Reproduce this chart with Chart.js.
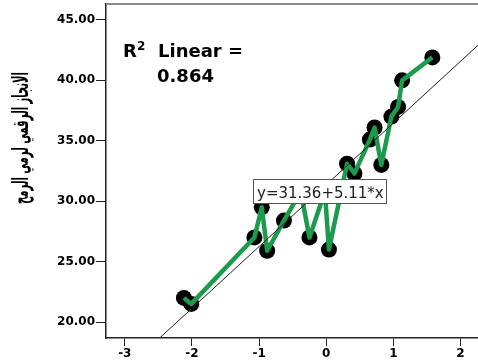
<!DOCTYPE html>
<html>
<head>
<meta charset="utf-8">
<script src="https://cdn.jsdelivr.net/npm/chart.js@4.4.1/dist/chart.umd.min.js"></script>
<style>
    html, body { margin: 0; padding: 0; background: #fff; overflow: hidden; }
    canvas { display: block; }
</style>
</head>
<body>
<canvas id="scatterChart" width="478" height="363"></canvas>
<script>
"use strict";

// data
var xTicks = [-3, -2, -1, 0, 1, 2];
var yTicks = [20, 25, 30, 35, 40, 45];
var xValues = [-2.12, -2.01, -1.07, -0.96, -0.88, -0.63, -0.38, -0.25, -0.02, 0.04, 0.31, 0.42, 0.65, 0.72, 0.82, 0.97, 1.07, 1.13, 1.58];
var yValues = [22.0, 21.5, 27.0, 29.5, 25.9, 28.4, 30.8, 27.0, 30.8, 26.0, 33.1, 32.3, 35.1, 36.1, 33.0, 37.0, 37.8, 40.0, 41.9];
var intercept = 31.36;
var slope = 5.11;
var rSquared = 0.864;
var yTitle = "الانجاز الرقمي لرمي الرمح";

var xMin = -3.28, xMax = 2.26;
var yMin = 18.68, yMax = 46.32;

var points = xValues.map(function (x, i) {
    return { x: x, y: yValues[i] };
});
var fitLine = [xMin, xMax].map(function (x) {
    return { x: x, y: intercept + slope * x };
});

var annotations = {
    id: "annotations",
    afterDatasetsDraw: function (chart) {
        var ctx = chart.ctx;
        var area = chart.chartArea;
        ctx.save();

        // top frame line
        ctx.strokeStyle = "#8a8a8a";
        ctx.lineWidth = 2;
        ctx.beginPath();
        ctx.moveTo(area.left, area.top);
        ctx.lineTo(chart.width, area.top);
        ctx.stroke();

        // R2 label
        ctx.fillStyle = "#000";
        ctx.textBaseline = "alphabetic";
        ctx.textAlign = "left";
        ctx.font = "bold 18px 'DejaVu Sans'";
        ctx.fillText("R", 123, 57);
        ctx.font = "bold 12px 'DejaVu Sans'";
        ctx.fillText("2", 137, 50);
        ctx.font = "bold 18px 'DejaVu Sans'";
        ctx.fillText("Linear =", 158, 57);
        ctx.fillText(rSquared.toFixed(3), 157, 82);

        // equation box
        ctx.fillStyle = "#fff";
        ctx.fillRect(253, 179, 133, 24);
        ctx.strokeStyle = "#555";
        ctx.lineWidth = 1;
        ctx.strokeRect(253.5, 179.5, 133, 24);
        ctx.fillStyle = "#222";
        ctx.font = "15px 'DejaVu Sans'";
        ctx.fillText("y=" + intercept.toFixed(2) + "+" + slope.toFixed(2) + "*x", 257, 198);

        // arabic axis title, squeezed to the length it has in the picture
        ctx.font = "bold 22px 'DejaVu Sans'";
        var w = ctx.measureText(yTitle).width;
        ctx.translate(22, 138);
        ctx.rotate(-Math.PI / 2);
        ctx.scale(132 / w, 1);
        ctx.textAlign = "center";
        ctx.textBaseline = "middle";
        ctx.fillStyle = "#000";
        ctx.fillText(yTitle, 0, 0);
        ctx.restore();
    }
};

var ctx1 = document.getElementById("scatterChart");
var myScatterChart = new Chart(ctx1, {
    type: "scatter",
    data: {
        datasets: [{
            data: fitLine,
            showLine: true,
            borderColor: "#222",
            borderWidth: 1,
            pointRadius: 0,
            order: 0
        }, {
            data: points,
            showLine: true,
            borderColor: "#1c9b4c",
            borderWidth: 4.5,
            borderJoinStyle: "round",
            pointRadius: 0,
            order: 1
        }, {
            data: points,
            showLine: false,
            pointRadius: 8,
            backgroundColor: "#000",
            borderWidth: 0,
            order: 2
        }]
    },
    options: {
        responsive: false,
        animation: false,
        layout: { autoPadding: false, padding: { left: 0, right: 0, top: 4, bottom: 0 } },
        plugins: {
            legend: { display: false },
            tooltip: { enabled: false }
        },
        scales: {
            x: {
                type: "linear",
                min: xMin,
                max: xMax,
                afterBuildTicks: function (scale) {
                    scale.ticks = xTicks.map(function (v) { return { value: v }; });
                },
                afterFit: function (scale) {
                    scale.height = 25;
                    scale.paddingLeft = 0;
                    scale.paddingRight = 0;
                },
                ticks: {
                    color: "#000",
                    padding: 1,
                    maxRotation: 0,
                    font: { family: "DejaVu Sans", size: 12, weight: "bold" }
                },
                grid: { drawOnChartArea: false, drawTicks: true, tickLength: 8, color: "#222" },
                border: { display: true, color: "#222", width: 1.5 }
            },
            y: {
                type: "linear",
                min: yMin,
                max: yMax,
                afterBuildTicks: function (scale) {
                    scale.ticks = yTicks.map(function (v) { return { value: v }; });
                },
                afterFit: function (scale) {
                    scale.width = 106;
                    scale.paddingTop = 0;
                    scale.paddingBottom = 0;
                },
                ticks: {
                    color: "#000",
                    padding: 1,
                    font: { family: "DejaVu Sans", size: 12, weight: "bold" },
                    callback: function (value) { return Number(value).toFixed(2); }
                },
                grid: { drawOnChartArea: false, drawTicks: true, tickLength: 10, color: "#222" },
                border: { display: true, color: "#222", width: 1.5 }
            }
        }
    },
    plugins: [annotations]
});
</script>
</body>
</html>
